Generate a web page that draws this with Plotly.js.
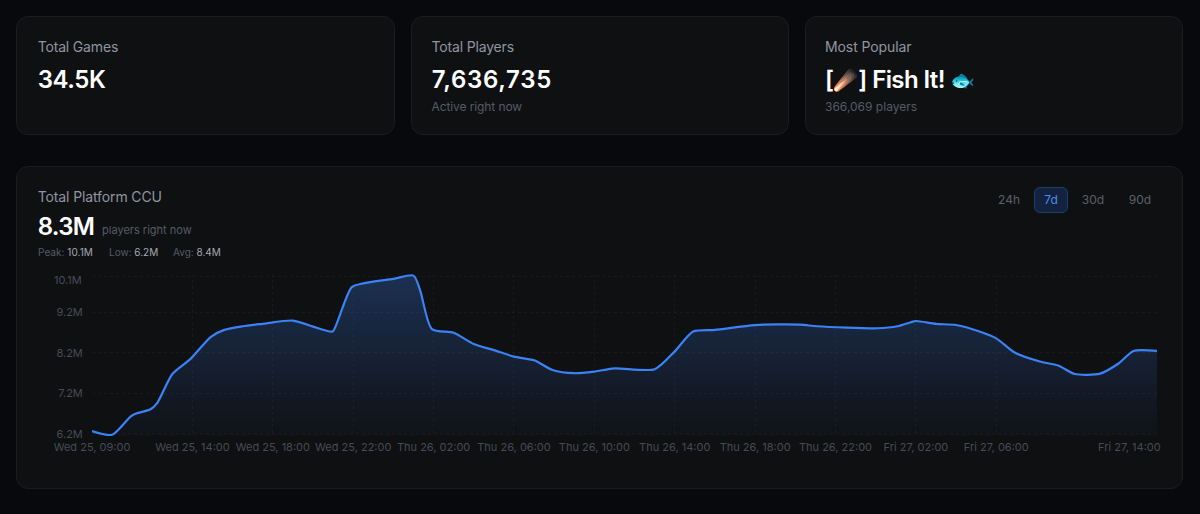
<!DOCTYPE html>
<html>
<head>
<meta charset="utf-8">
<script src="https://cdn.plot.ly/plotly-3.0.1.min.js"></script>
<style>
html,body{margin:0;padding:0;width:1200px;height:514px;overflow:hidden;background:#08090c;font-family:Inter,"Noto Sans",sans-serif;}
.card{position:absolute;box-sizing:border-box;background:#0f1012;border:1px solid #1b1c20;border-radius:12px;}
.t{position:absolute;white-space:nowrap;line-height:1;}
#chart{position:absolute;left:0;top:0;width:1200px;height:514px;}
.btn{position:absolute;box-sizing:border-box;top:187px;height:26px;line-height:25px;text-align:center;font-size:12px;color:#5b606b;border-radius:6px;}
.on{background:#13233f;border:1px solid #1f3f70;color:#4a8fe8;line-height:24px;}
.emo{display:inline-block;vertical-align:1px;letter-spacing:0;}
</style>
</head>
<body>
<div class="card" style="left:16px;top:16px;width:379px;height:119px"></div>
<div class="card" style="left:410.5px;top:16px;width:378.5px;height:119px"></div>
<div class="card" style="left:804.5px;top:16px;width:378.5px;height:119px"></div>
<div class="card" style="left:16px;top:166px;width:1167px;height:323px"></div>

<div class="t" style="left:37.7px;top:40px;font-size:14px;letter-spacing:-0.17px;color:#8f95a1">Total Games</div>
<div class="t" style="left:37.7px;top:68px;font-size:24px;font-weight:600;letter-spacing:-0.4px;color:#fff">34.5K</div>

<div class="t" style="left:431.5px;top:40px;font-size:14px;letter-spacing:-0.17px;color:#8f95a1">Total Players</div>
<div class="t" style="left:431.7px;top:68px;font-size:24px;font-weight:600;letter-spacing:0.7px;color:#fff">7,636,735</div>
<div class="t" style="left:431.5px;top:101px;font-size:12px;letter-spacing:-0.1px;color:#565b66">Active right now</div>

<div class="t" style="left:825px;top:40px;font-size:14px;letter-spacing:-0.1px;color:#8f95a1">Most Popular</div>
<div class="t" style="left:825px;top:68px;font-size:24px;font-weight:600;letter-spacing:-0.6px;color:#fff">[<span class="emo" style="font-size:20px;filter:hue-rotate(165deg) saturate(2.2)">☄️</span>] Fish It! <span class="emo" style="font-size:20px;filter:hue-rotate(-15deg) brightness(1.15)">🐟</span></div>
<div class="t" style="left:825px;top:101px;font-size:12px;color:#565b66">366,069 players</div>

<div class="t" style="left:37.7px;top:190px;font-size:14px;letter-spacing:-0.12px;color:#8f95a1">Total Platform CCU</div>
<div class="t" style="left:37.7px;top:215px;font-size:24px;font-weight:600;letter-spacing:-0.7px;color:#fff">8.3M</div>
<div class="t" style="left:102px;top:225px;font-size:11px;color:#565b66">players right now</div>
<div class="t" style="left:38px;top:247px;font-size:10px;letter-spacing:0.05px;color:#565b66">Peak: <span style="color:#a4a9b3">10.1M</span></div>
<div class="t" style="left:109px;top:247px;font-size:10px;color:#565b66">Low: <span style="color:#a4a9b3">6.2M</span></div>
<div class="t" style="left:173px;top:247px;font-size:10px;color:#565b66">Avg: <span style="color:#a4a9b3">8.4M</span></div>

<div class="btn" style="left:990px;width:38px">24h</div>
<div class="btn on" style="left:1034px;width:34px">7d</div>
<div class="btn" style="left:1074px;width:38px">30d</div>
<div class="btn" style="left:1121px;width:38px">90d</div>

<div id="chart"></div>
<script>
const times = [
"2026-02-25 09:00","2026-02-25 10:00","2026-02-25 10:55","2026-02-25 11:10","2026-02-25 11:55","2026-02-25 12:15",
"2026-02-25 13:00","2026-02-25 13:55","2026-02-25 14:55","2026-02-25 15:35","2026-02-25 16:30","2026-02-25 17:30",
"2026-02-25 19:00","2026-02-25 20:00","2026-02-25 20:50","2026-02-25 21:00","2026-02-25 21:55","2026-02-25 22:30",
"2026-02-26 00:00","2026-02-26 01:00","2026-02-26 01:20","2026-02-26 01:55","2026-02-26 03:00","2026-02-26 04:00",
"2026-02-26 05:00","2026-02-26 06:00","2026-02-26 07:00","2026-02-26 07:55","2026-02-26 09:00","2026-02-26 10:00",
"2026-02-26 11:00","2026-02-26 13:00","2026-02-26 14:00","2026-02-26 14:55","2026-02-26 16:00","2026-02-26 18:00",
"2026-02-26 20:15","2026-02-26 21:05","2026-02-27 00:05","2026-02-27 01:05","2026-02-27 01:45","2026-02-27 02:00",
"2026-02-27 03:00","2026-02-27 04:00","2026-02-27 05:10","2026-02-27 06:00","2026-02-27 06:55","2026-02-27 08:10",
"2026-02-27 09:05","2026-02-27 09:55","2026-02-27 11:10","2026-02-27 12:05","2026-02-27 12:50","2026-02-27 14:00"];
const ccuMillions = [
6.27,6.18,6.63,6.70,6.81,6.97,
7.68,8.06,8.60,8.77,8.86,8.92,
9.00,8.85,8.73,8.74,9.82,9.92,
10.03,10.11,9.74,8.79,8.70,8.42,
8.27,8.11,8.02,7.78,7.70,7.74,
7.82,7.80,8.24,8.73,8.77,8.89,
8.90,8.86,8.81,8.86,8.96,8.99,
8.92,8.89,8.73,8.56,8.21,7.99,
7.89,7.68,7.69,7.94,8.25,8.25];
const yTickVals = [6.2,7.2,8.2,9.2,10.1];
const yTickText = ["6.2M","7.2M","8.2M","9.2M","10.1M"];
const xTickVals = ["2026-02-25 09:00","2026-02-25 14:00","2026-02-25 18:00","2026-02-25 22:00","2026-02-26 02:00","2026-02-26 06:00","2026-02-26 10:00","2026-02-26 14:00","2026-02-26 18:00","2026-02-26 22:00","2026-02-27 02:00","2026-02-27 06:00","2026-02-27 14:00"];
const xTickText = ["Wed 25, 09:00","Wed 25, 14:00","Wed 25, 18:00","Wed 25, 22:00","Thu 26, 02:00","Thu 26, 06:00","Thu 26, 10:00","Thu 26, 14:00","Thu 26, 18:00","Thu 26, 22:00","Fri 27, 02:00","Fri 27, 06:00","Fri 27, 14:00"];

const labelFont = {family:'Inter, sans-serif', size:11, color:'#474b55'};
const lastX = xTickVals.length-1, lastY = yTickVals.length-1;
const grid = 'rgba(255,255,255,0.04)';

Plotly.newPlot('chart',[{
  x:times, y:ccuMillions, type:'scatter', mode:'lines',
  line:{color:'#3b82f6', width:2.2, shape:'spline', smoothing:0.7},
  fill:'tozeroy',
  fillgradient:{type:'vertical', start:6.2, stop:10.1, colorscale:[[0,'rgba(59,130,246,0.02)'],[1,'rgba(59,130,246,0.28)']]},
  hoverinfo:'skip'
}],{
  width:1200, height:514,
  paper_bgcolor:'rgba(0,0,0,0)', plot_bgcolor:'rgba(0,0,0,0)',
  margin:{l:91.6, r:43.3, t:274.1, b:78.25, pad:0},
  showlegend:false,
  font:labelFont,
  xaxis:{type:'date', range:[xTickVals[0], xTickVals[lastX]], tickmode:'array',
    tickvals:xTickVals, ticktext:xTickText.map((t,i)=>i===lastX?'':t),
    tickfont:labelFont, ticks:'outside', ticklen:1, tickcolor:'rgba(0,0,0,0)', tickangle:0,
    showgrid:true, gridcolor:grid, griddash:'3px,3px', gridwidth:1, zeroline:false, showline:false,
    automargin:false, ticklabeloverflow:'allow'},
  yaxis:{range:[6.15,10.15], tickmode:'array', tickvals:yTickVals,
    ticktext:yTickText.map((t,i)=>i===lastY?'':t),
    tickfont:labelFont, ticks:'outside', ticklen:6, tickcolor:'rgba(0,0,0,0)',
    showgrid:true, gridcolor:grid, griddash:'3px,3px', gridwidth:1, zeroline:false, showline:false,
    automargin:false},
  annotations:[
    {x:xTickVals[lastX], xref:'x', y:0, yref:'paper', xanchor:'right', yanchor:'top', xshift:6, yshift:-2,
     text:xTickText[lastX], showarrow:false, font:labelFont},
    {x:0, xref:'paper', y:yTickVals[lastY], yref:'y', xanchor:'right', yanchor:'middle', xshift:-8, yshift:-4,
     text:yTickText[lastY], showarrow:false, font:labelFont}
  ]
},{displayModeBar:false, staticPlot:true});
</script>
</body>
</html>
